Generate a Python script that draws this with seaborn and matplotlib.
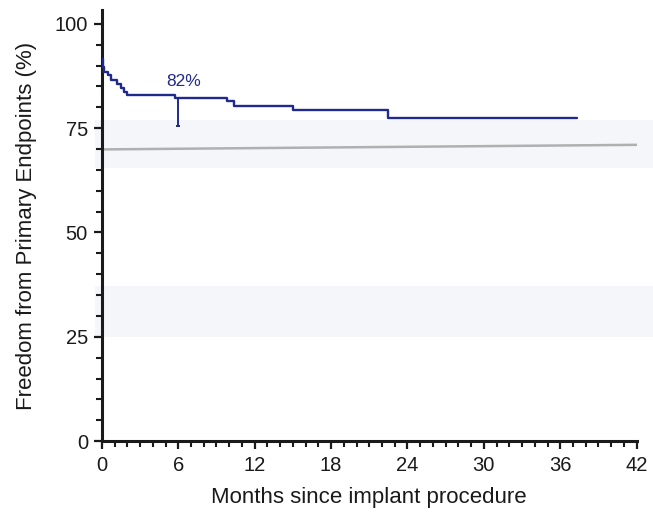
import numpy as np
import pandas as pd
import matplotlib
matplotlib.use("Agg")
import matplotlib.pyplot as plt
import seaborn as sns
from matplotlib.ticker import MultipleLocator

# ---- data ----
km_time = [0.0, 0.05, 0.2, 0.5, 0.75, 1.2, 1.5, 1.75, 2.0, 5.75, 9.8, 10.4, 15.0, 22.45, 37.3]
km_surv = [91.5, 89.7, 88.5, 87.8, 86.5, 85.5, 84.5, 83.6, 83.0, 82.3, 81.5, 80.4, 79.3, 77.4, 77.4]

ci_time = [6.0]
ci_est = [82.3]
ci_lower = [75.6]

ref_time = [0.0, 42.0]
ref_val = [69.9, 71.0]

annot_text = "82%"
annot_x = 6.4
annot_y = 86.2

x_major = [0, 6, 12, 18, 24, 30, 36, 42]
y_major = [0, 25, 50, 75, 100]
x_label = "Months since implant procedure"
y_label = "Freedom from Primary Endpoints (%)"

# ---- styling ----
sns.set_theme(style="ticks")
plt.rcParams["font.family"] = ["Liberation Sans", "DejaVu Sans"]

ink = "#1a1a1a"
navy = "#1f2a8c"

fig = plt.figure(figsize=(6.53, 5.13), dpi=100)
ax = fig.add_axes([0.156, 0.140, 0.975 - 0.156, 0.9805 - 0.140])
ax.set_facecolor("none")

# faint scan bands
for lo, hi in [(65.5, 77.0), (24.9, 37.2)]:
    ax.axhspan(lo, hi, xmin=-0.013, xmax=1.04, color="#f4f6fa", zorder=0, clip_on=False, lw=0)

km_df = pd.DataFrame({"t": km_time, "s": km_surv})
ref_df = pd.DataFrame({"t": ref_time, "s": ref_val})

sns.lineplot(data=ref_df, x="t", y="s", ax=ax, color="#b0b0b0", lw=1.8, zorder=2)
sns.lineplot(data=km_df, x="t", y="s", ax=ax, color=navy, lw=1.7,
             drawstyle="steps-post", zorder=3)

# confidence bar at 6 months (lower side only)
ax.vlines(ci_time, ci_lower, ci_est, color=navy, lw=1.4, zorder=3)
ax.hlines(ci_lower, [t - 0.15 for t in ci_time], [t + 0.15 for t in ci_time],
          color=navy, lw=1.4, zorder=3)

ax.text(annot_x, annot_y, annot_text, color=navy, fontsize=12.5,
        ha="center", va="center")

ax.set_xlim(0, 42)
ax.set_ylim(0, 103.3)
ax.set_xticks(x_major)
ax.set_yticks(y_major)
ax.xaxis.set_minor_locator(MultipleLocator(1))
ax.yaxis.set_minor_locator(MultipleLocator(5))

for s in ["top", "right"]:
    ax.spines[s].set_visible(False)
for s in ["left", "bottom"]:
    ax.spines[s].set_color(ink)
    ax.spines[s].set_linewidth(2.2)

ax.tick_params(axis="both", which="major", direction="out", length=6, width=1.6,
               color=ink, labelcolor=ink, labelsize=14.5)
ax.tick_params(axis="both", which="minor", direction="out", length=4, width=1.5, color=ink)
ax.tick_params(axis="x", which="major", pad=5)
ax.tick_params(axis="y", which="major", pad=4)

ax.set_xlabel(x_label, fontsize=16, color=ink, labelpad=8)
ax.set_ylabel(y_label, fontsize=16, color=ink, labelpad=13)

fig.savefig("out.png", dpi=100)
